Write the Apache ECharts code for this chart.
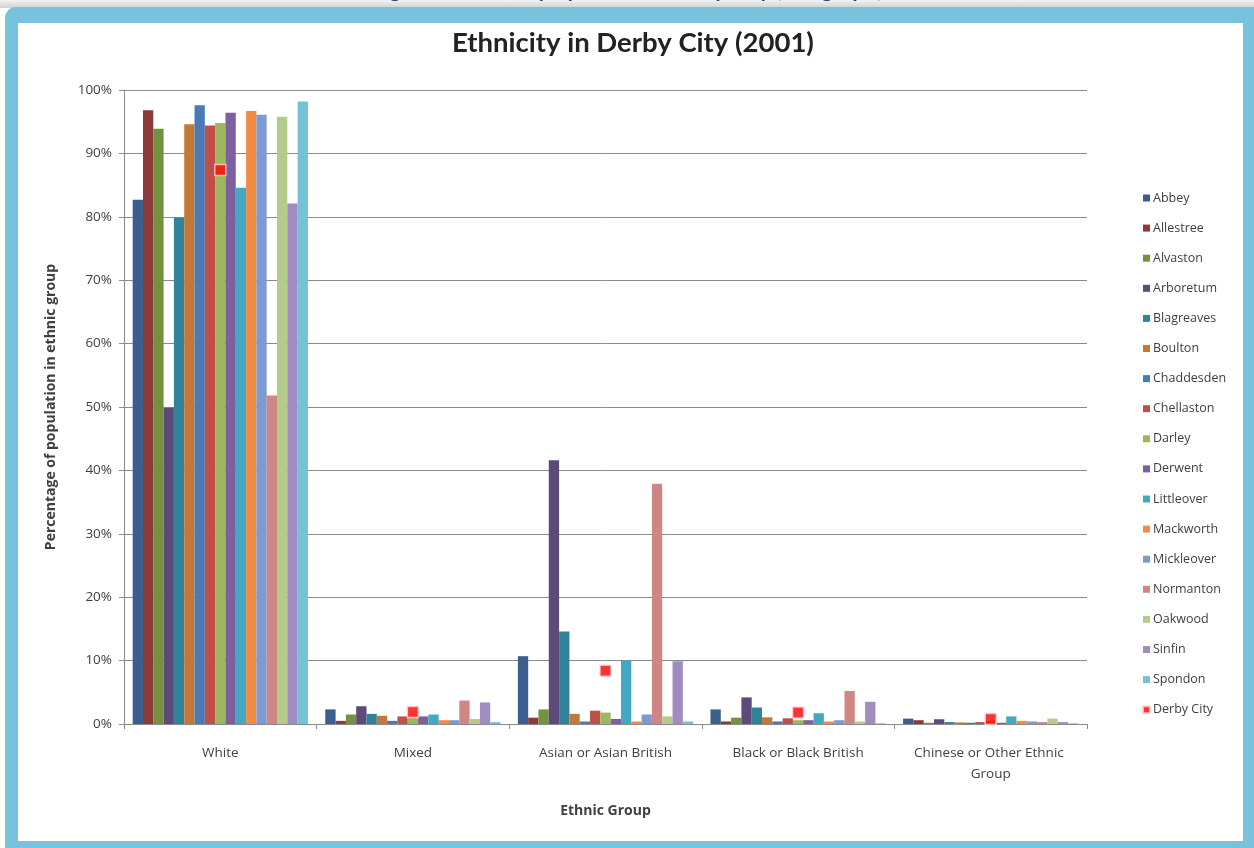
<!DOCTYPE html>
<html>
<head>
<meta charset="utf-8">
<script src="https://cdn.jsdelivr.net/npm/echarts@6/dist/echarts.min.js"></script>
<style>
  html, body { margin: 0; padding: 0; width: 1254px; height: 848px; overflow: hidden; background: #ffffff; }
  #strip { position: absolute; left: 0; top: 0; width: 1254px; height: 8px;
           background: linear-gradient(#f2f2f2, #d0d0d0); }
  #frame { position: absolute; left: 5px; top: 7px; width: 1270px; height: 860px;
           background: #77c2dc; border-radius: 11px; }
  #inner { position: absolute; left: 18px; top: 23px; width: 1225px; height: 818px; background: #ffffff; }
  #chart { position: absolute; left: 0; top: 0; width: 1254px; height: 848px; }
</style>
</head>
<body>
<div id="strip"></div>
<div id="frame"></div>
<div id="inner"></div>
<div id="chart"></div>
<script>
// Ethnic groups on the x axis
const categories = ['White', 'Mixed', 'Asian or Asian British', 'Black or Black British', 'Chinese or Other Ethnic Group'];

// Ward names (one bar series each) and their bar colours
const wards = ['Abbey', 'Allestree', 'Alvaston', 'Arboretum', 'Blagreaves', 'Boulton', 'Chaddesden',
  'Chellaston', 'Darley', 'Derwent', 'Littleover', 'Mackworth', 'Mickleover', 'Normanton',
  'Oakwood', 'Sinfin', 'Spondon'];
const wardColors = ['#3a5f8e', '#8c3a37', '#74913f', '#5d4a7b', '#31839a', '#c27937', '#4a7ab5',
  '#bf5049', '#9db75c', '#7c60a0', '#45a8c2', '#f28c45', '#7d9bd1', '#cf8684',
  '#b3cc8a', '#a08cc0', '#76c0d8'];

// Percentage of each ward's population per ethnic group
const abbey      = [82.7, 2.3, 10.7, 2.3, 0.85];
const allestree  = [96.8, 0.5, 1.0, 0.4, 0.6];
const alvaston   = [93.9, 1.5, 2.3, 1.0, 0.2];
const arboretum  = [49.9, 2.8, 41.6, 4.2, 0.75];
const blagreaves = [79.9, 1.6, 14.6, 2.6, 0.3];
const boulton    = [94.6, 1.3, 1.6, 1.05, 0.25];
const chaddesden = [97.6, 0.5, 0.4, 0.4, 0.2];
const chellaston = [94.4, 1.2, 2.1, 0.9, 0.3];
const darley     = [94.8, 1.0, 1.8, 0.6, 0.5];
const derwent    = [96.4, 1.2, 0.8, 0.6, 0.2];
const littleover = [84.6, 1.5, 10.0, 1.7, 1.2];
const mackworth  = [96.7, 0.6, 0.4, 0.4, 0.5];
const mickleover = [96.1, 0.6, 1.5, 0.6, 0.4];
const normanton  = [51.8, 3.7, 37.9, 5.2, 0.3];
const oakwood    = [95.8, 0.8, 1.2, 0.4, 0.85];
const sinfin     = [82.1, 3.4, 9.9, 3.5, 0.3];
const spondon    = [98.2, 0.3, 0.4, 0.1, 0.1];

// City-wide average, shown as a marker per group
const derbyCity  = [87.4, 1.9, 8.4, 1.8, 0.8];

const yTicks = [0, 10, 20, 30, 40, 50, 60, 70, 80, 90, 100];

const wardValues = [abbey, allestree, alvaston, arboretum, blagreaves, boulton, chaddesden,
  chellaston, darley, derwent, littleover, mackworth, mickleover, normanton, oakwood, sinfin, spondon];

const textColor = '#404040';
const lineColor = '#8a8a8a';
const font = '"Open Sans", Lato, sans-serif';
const titleFont = 'Lato, "Open Sans", sans-serif';

const series = wards.map((name, i) => ({
  name: name,
  type: 'bar',
  data: wardValues[i],
  barGap: '0%',
  barCategoryGap: '9%',
  itemStyle: { color: wardColors[i] },
  emphasis: { disabled: true }
}));

series.push({
  name: 'Derby City',
  type: 'scatter',
  data: derbyCity,
  symbol: 'rect',
  symbolSize: 11,
  z: 5,
  itemStyle: { color: '#ff0000', borderColor: '#ffd2d2', borderWidth: 1.5 },
  emphasis: { disabled: true }
});

const chart = echarts.init(document.getElementById('chart'), null, { renderer: 'canvas' });

chart.setOption({
  animation: false,
  backgroundColor: 'transparent',
  textStyle: { fontFamily: font },
  graphic: [{
    type: 'text',
    left: 'center',
    top: -21,
    silent: true,
    style: {
      text: 'Figure 2: Ethnicity by Ward in Derby City (Bar graph)',
      font: 'bold 22px ' + titleFont,
      fill: '#1f4e79'
    }
  }],
  title: {
    text: 'Ethnicity in Derby City (2001)',
    left: 447,
    top: 24,
    textStyle: { fontFamily: titleFont, fontSize: 27.5, fontWeight: 'bold', color: '#222222' }
  },
  legend: {
    orient: 'vertical',
    left: 1137,
    top: 186,
    icon: 'rect',
    itemWidth: 7,
    itemHeight: 7,
    itemGap: 16.1,
    data: wards.concat(['Derby City']),
    textStyle: { fontFamily: font, fontSize: 12.5, color: textColor, lineHeight: 14, padding: [0, 0, 0, -2] }
  },
  grid: { left: 124, right: 167, top: 90, bottom: 124, containLabel: false },
  xAxis: {
    type: 'category',
    data: categories,
    name: 'Ethnic Group',
    nameLocation: 'middle',
    nameGap: 80,
    nameTextStyle: { fontFamily: font, fontSize: 14, fontWeight: 'bold', color: textColor },
    axisLine: { lineStyle: { color: lineColor, width: 1 } },
    axisTick: { show: true, length: 5, lineStyle: { color: lineColor } },
    axisLabel: {
      fontFamily: font, fontSize: 13.5, color: textColor, margin: 19,
      lineHeight: 21, width: 185, overflow: 'break', interval: 0
    }
  },
  yAxis: {
    type: 'value',
    min: 0,
    max: 100,
    interval: 10,
    name: 'Percentage of population in ethnic group',
    nameLocation: 'middle',
    nameGap: 66,
    nameRotate: 90,
    nameTextStyle: { fontFamily: font, fontSize: 14, fontWeight: 'bold', color: textColor },
    axisLine: { show: true, lineStyle: { color: lineColor, width: 1 } },
    axisTick: { show: true, length: 5, inside: false, lineStyle: { color: lineColor } },
    splitLine: { show: true, lineStyle: { color: lineColor, width: 1 } },
    axisLabel: {
      fontFamily: font, fontSize: 13.5, color: textColor, margin: 12,
      customValues: yTicks,
      formatter: v => v + '%'
    }
  },
  series: series
});
</script>
</body>
</html>
